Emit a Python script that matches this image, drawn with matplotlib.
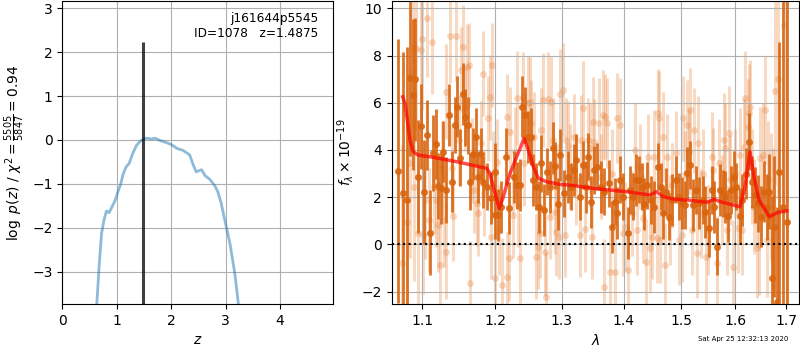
import matplotlib
matplotlib.use('Agg')
import matplotlib.pyplot as plt
from matplotlib.ticker import FixedLocator, FormatStrFormatter, NullLocator

# p(z) curve
z_grid = [0.63, 0.68, 0.72, 0.765, 0.81, 0.86, 0.91, 0.97, 1.03, 1.07,
          1.12, 1.17, 1.23, 1.29, 1.36, 1.43, 1.50, 1.55, 1.64, 1.70,
          1.79, 1.91, 2.01, 2.10, 2.22, 2.34, 2.40, 2.46, 2.51, 2.56,
          2.62, 2.71, 2.80, 2.86, 2.92, 3.00, 3.08, 3.17, 3.24]
logpz = [-3.80, -2.82, -2.14, -1.83, -1.62, -1.66, -1.53, -1.38, -1.15, -1.02,
         -0.77, -0.62, -0.53, -0.32, -0.13, -0.03, 0.02, 0.04, 0.02, 0.04,
         -0.01, -0.06, -0.11, -0.19, -0.24, -0.34, -0.55, -0.73, -0.70, -0.68,
         -0.81, -0.90, -1.04, -1.19, -1.45, -1.91, -2.36, -3.05, -3.80]
z_best = 1.4875
pz_peak = 2.24

# spectrum, bright points
wave_hi = [1.0688, 1.0755, 1.0800, 1.0845, 1.0876, 1.0903, 1.0947, 1.0979, 1.1023, 1.1059,
           1.1099, 1.1135, 1.1180, 1.1215, 1.1247, 1.1282, 1.1323, 1.1358, 1.1394, 1.1434,
           1.1470, 1.1506, 1.1546, 1.1582, 1.1613, 1.1653, 1.1693, 1.1725, 1.1760, 1.1796,
           1.1832, 1.1881, 1.1939, 1.1993,
           1.2002, 1.2038, 1.2088, 1.2154, 1.2204, 1.2270, 1.2320, 1.2371, 1.2391, 1.2441,
           1.2482, 1.2522, 1.2557, 1.2608, 1.2648, 1.2684, 1.2724, 1.2775, 1.2810, 1.2860,
           1.2896, 1.2936, 1.2976, 1.3037, 1.3088, 1.3138, 1.3189, 1.3229, 1.3279, 1.3330,
           1.3380, 1.3416, 1.3466, 1.3517,
           1.3564, 1.3621, 1.3678, 1.3752, 1.3797, 1.3849, 1.3889, 1.3934, 1.3991, 1.4066,
           1.4106, 1.4163, 1.4208, 1.4265, 1.4305, 1.4345, 1.4402, 1.4459, 1.4516, 1.4579,
           1.4630, 1.4676, 1.4733, 1.4779, 1.4836, 1.4904, 1.4950, 1.5007, 1.5064, 1.5104,
           1.5161, 1.5207, 1.5258,
           1.5328, 1.5392, 1.5437, 1.5502, 1.5566, 1.5604, 1.5649, 1.5713, 1.5758, 1.5810,
           1.5861, 1.5919, 1.5970, 1.6022, 1.6080, 1.6131, 1.6208, 1.6272, 1.6324, 1.6375,
           1.6439, 1.6504, 1.6555, 1.6613, 1.6664, 1.6709, 1.6760, 1.6812, 1.6863, 1.6934,
           1.7030]
flux_hi = [3.10, 2.16, 1.88, 7.03, 6.33, 7.00, 2.87, 5.00, 2.23, 4.63,
           0.49, 3.86, 4.25, 2.49, 2.37, 3.93, 2.30, 5.48, 2.66, 5.06,
           5.83, 3.67, 6.37, 5.38, 5.04, 2.66, 3.83, 4.56, 2.87, 3.83,
           2.66, 2.44, 1.95, 1.24,
           3.08, 1.24, 1.60, 3.71, 1.53, 2.87, 2.51, 2.51, 5.83, 5.48,
           4.56, 4.56, 2.73, 2.44, 1.60, 3.43, 1.45, 3.08, 2.44, 4.07,
           3.33, 1.71, 3.79, 2.16, 2.87, 2.44, 3.15, 3.57, 2.02, 3.36,
           2.44, 3.71, 1.81, 3.15,
           3.29, 2.44, 2.23, 2.58, 0.72, 1.81, 1.31, 2.73, 2.02, 0.47,
           2.30, 2.02, 2.73, 2.73, 2.44, 1.71, 2.51, 1.88, 1.60, 3.29,
           2.44, 1.31, 2.23, 1.17, 1.88, 2.73, 2.02, 1.74, 1.67, 3.04,
           3.36, 1.67, 2.30,
           1.74, 1.88, 1.38, 0.68, 2.30, 1.60, -0.10, 2.30, 2.16, 2.02,
           1.20, 2.30, 2.87, 2.44, 1.20, 1.88, 3.00, 4.35, 2.66, 2.09,
           1.74, 1.17, 2.23, 1.60, 2.23, -1.44, 0.75, -2.43, 3.08, 1.60,
           0.96]
err_hi = [5.6, 6.0, 6.5, 3.3, 3.2, 2.6, 2.4, 1.8, 2.2, 1.5,
          1.8, 1.6, 1.5, 1.4, 1.5, 1.3, 1.4, 1.3, 1.3, 1.2,
          1.3, 1.2, 1.3, 1.2, 1.2, 1.2, 1.1, 1.2, 1.1, 1.1,
          1.1, 1.0, 1.1, 1.0,
          1.2, 1.1, 1.1, 1.2, 1.1, 1.1, 1.0, 1.1, 1.3, 1.2,
          1.1, 1.2, 1.1, 1.0, 1.1, 1.2, 1.1, 1.0, 1.1, 1.1,
          1.0, 1.1, 1.1, 1.0, 1.1, 1.0, 1.1, 1.1, 1.0, 1.0,
          1.1, 1.0, 1.1, 1.0,
          1.0, 1.1, 1.0, 1.0, 1.1, 1.0, 1.1, 1.0, 1.0, 1.1,
          1.0, 1.0, 1.1, 1.0, 1.0, 1.1, 1.0, 1.0, 1.1, 1.0,
          1.0, 1.1, 1.0, 1.0, 1.1, 1.0, 1.0, 1.1, 1.0, 1.1,
          1.0, 1.1, 1.0,
          1.1, 1.0, 1.1, 1.2, 1.0, 1.1, 1.2, 1.1, 1.0, 1.1,
          1.1, 1.0, 1.1, 1.0, 1.2, 1.1, 1.1, 1.2, 1.1, 1.2,
          1.2, 1.3, 1.3, 1.4, 1.6, 3.5, 3.0, 4.0, 5.5, 12.0,
          12.0]

# spectrum, faint points
wave_lo = [1.0733, 1.0800, 1.0845, 1.0876, 1.0889, 1.0921, 1.0943, 1.0979, 1.1001, 1.1010,
           1.1037, 1.1068, 1.1090, 1.1126, 1.1157, 1.1180, 1.1202, 1.1233, 1.1269, 1.1291,
           1.1314, 1.1323, 1.1367, 1.1403, 1.1416, 1.1448, 1.1492, 1.1515, 1.1550, 1.1582,
           1.1604, 1.1635, 1.1653, 1.1671, 1.1707, 1.1738, 1.1760, 1.1805, 1.1827, 1.1850,
           1.1894, 1.1930, 1.1948, 1.1961, 1.1975,
           1.2002, 1.2027, 1.2053, 1.2103, 1.2169, 1.2179, 1.2204, 1.2219, 1.2255, 1.2290,
           1.2320, 1.2340, 1.2371, 1.2406, 1.2431, 1.2482, 1.2507, 1.2532, 1.2573, 1.2608,
           1.2633, 1.2658, 1.2684, 1.2709, 1.2734, 1.2759, 1.2785, 1.2810, 1.2835, 1.2860,
           1.2886, 1.2911, 1.2936, 1.2961, 1.2976, 1.3012, 1.3047, 1.3062, 1.3098, 1.3128,
           1.3189, 1.3214, 1.3279, 1.3300, 1.3340, 1.3365, 1.3406, 1.3441, 1.3476, 1.3491,
           1.3517,
           1.3592, 1.3621, 1.3661, 1.3678, 1.3695, 1.3718, 1.3763, 1.3809, 1.3849, 1.3889,
           1.3934, 1.3980, 1.4020, 1.4077, 1.4134, 1.4191, 1.4231, 1.4277, 1.4334, 1.4379,
           1.4419, 1.4448, 1.4476, 1.4516, 1.4562, 1.4590, 1.4607, 1.4619, 1.4665, 1.4705,
           1.4744, 1.4790, 1.4836, 1.4904, 1.4950, 1.5007, 1.5030, 1.5064, 1.5104, 1.5132,
           1.5161, 1.5189, 1.5235, 1.5275, 1.5304,
           1.5360, 1.5392, 1.5457, 1.5489, 1.5566, 1.5585, 1.5649, 1.5694, 1.5746, 1.5778,
           1.5810, 1.5842, 1.5874, 1.5906, 1.5958, 1.6003, 1.6054, 1.6099, 1.6131, 1.6163,
           1.6195, 1.6247, 1.6259, 1.6279, 1.6324, 1.6356, 1.6420, 1.6452, 1.6484, 1.6548,
           1.6581, 1.6613, 1.6645, 1.6696, 1.6741, 1.6786, 1.6837, 1.6953]
flux_lo = [-0.81, 0.96, 3.43, 8.30, 2.44, 8.30, 0.47, 8.23, 8.69, 0.40,
           1.88, 9.58, 1.03, 8.59, 2.44, 1.88, 0.82, -0.88, 3.22, 1.03,
           6.47, -0.31, 8.83, 3.22, 1.20, 8.83, 4.42, 7.39, 8.35, 5.76,
           7.53, 7.60, -1.65, 3.57, 2.30, 1.74, 1.31, 4.28, 7.22, 2.16,
           5.34, 6.23, 0.32, 7.60, 3.00,
           -1.44, 3.50, 0.61, -1.72, 5.41, -1.37, -0.59, 4.77, 1.24, 3.93,
           6.19, 1.67, -0.59, 6.26, 3.43, 5.97, 6.05, 5.16, 4.56, -0.52,
           -0.10, 0.47, 4.84, 6.12, -0.31, -2.22, 6.14, 1.17, 6.05, 4.42,
           1.38, 0.54, 2.44, 0.32, 6.37, 6.54, 0.40, 4.42, 4.18, 3.29,
           4.56, 2.73, 0.40, 4.42, 5.76, 0.64, 4.42, 4.07, 0.32, 5.20,
           4.35,
           5.13, 2.87, 5.48, -1.79, 5.41, 5.13, -1.16, 3.00, -1.16, 5.34,
           5.06, 0.47, 0.75, -1.09, 1.31, 4.00, 0.61, 3.29, 1.10, -0.73,
           3.71, -0.17, 0.32, 3.71, 0.25, 5.55, 5.34, 0.18, 4.56, -0.88,
           3.71, 1.03, 2.51, 3.86, 0.18, 0.40, 5.34, 3.00, 5.06, 3.93,
           5.69, 0.61, 4.84, -0.38, 4.28,
           1.31, 3.00, -0.52, 0.61, 3.71, 3.15, -0.81, 3.43, 1.88, 4.42,
           4.07, 0.61, 4.70, 2.73, -0.95, 3.00, 0.68, 3.79, 0.61, 4.14,
           6.19, 4.99, 5.55, 5.80, 2.87, 1.60, -0.17, -0.03, 3.64, 3.79,
           5.69, 0.18, 2.73, 2.02, 1.10, 6.51, 7.00, 9.29]
err_lo = [5.0, 5.0, 4.0, 4.0, 4.0, 3.5, 3.0, 3.0, 3.0, 2.5,
          2.5, 2.5, 2.2, 2.2, 2.0, 2.0, 2.0, 2.0, 2.0, 2.0,
          2.0, 2.0, 2.0, 1.9, 1.9, 1.9, 1.9, 1.8, 1.8, 1.8,
          1.8, 1.8, 1.8, 1.8, 1.8, 1.8, 1.8, 1.8, 1.8, 1.8,
          1.8, 1.8, 1.8, 1.8, 1.8,
          1.9, 1.8, 1.9, 2.0, 1.8, 1.9, 1.8, 1.9, 1.8, 1.9,
          2.0, 1.8, 1.9, 1.9, 1.8, 2.0, 1.9, 1.8, 1.9, 1.8,
          1.8, 1.9, 1.8, 2.0, 1.9, 1.9, 2.0, 1.8, 1.9, 1.8,
          1.8, 1.9, 1.8, 1.8, 1.9, 2.0, 1.8, 1.8, 1.9, 1.8,
          1.8, 1.9, 1.8, 1.9, 2.0, 1.8, 1.8, 1.9, 1.8, 1.9,
          1.8,
          1.9, 1.8, 1.9, 2.0, 1.8, 1.9, 1.8, 1.9, 1.8, 1.9,
          2.0, 1.8, 1.9, 1.9, 1.8, 2.0, 1.9, 1.8, 1.9, 1.8,
          1.8, 1.9, 1.8, 2.0, 1.9, 1.9, 2.0, 1.8, 1.9, 1.8,
          1.8, 1.9, 1.8, 1.8, 1.9, 2.0, 1.8, 1.8, 1.9, 1.8,
          1.8, 1.9, 1.8, 1.9, 2.0,
          1.9, 1.9, 2.0, 1.9, 1.9, 1.8, 2.0, 1.9, 1.9, 2.0,
          1.9, 1.9, 2.0, 1.9, 2.0, 1.9, 1.9, 2.0, 1.9, 2.0,
          2.0, 2.0, 2.1, 2.0, 2.0, 2.0, 2.1, 2.1, 2.2, 2.2,
          2.3, 2.4, 2.5, 2.7, 3.0, 4.0, 5.0, 8.0]

# best-fit model
model_wave = [1.0745, 1.0775, 1.0804, 1.0839, 1.0882, 1.0947, 1.1102, 1.1462, 1.1881, 1.1928,
              1.2000, 1.2062, 1.2120, 1.2217, 1.2316, 1.2424, 1.2488, 1.2563, 1.2638, 1.2766,
              1.2971, 1.3127, 1.3498, 1.4049, 1.4446, 1.4563, 1.4678, 1.4855, 1.5215, 1.5461,
              1.5596, 1.5709, 1.6089, 1.6186, 1.6283, 1.6361, 1.6459, 1.6664, 1.6844, 1.7014]
model_flux = [6.25, 5.97, 5.27, 4.42, 3.92, 3.78, 3.71, 3.50, 3.22, 3.00,
              2.16, 1.52, 2.02, 3.00, 3.71, 4.49, 4.00, 3.29, 2.80, 2.65,
              2.54, 2.51, 2.37, 2.23, 2.09, 2.23, 2.02, 1.92, 1.85, 1.78,
              1.91, 1.81, 1.59, 2.44, 3.92, 2.86, 1.88, 1.17, 1.36, 1.42]

lam_ticks = [1.1, 1.2, 1.3, 1.4, 1.5, 1.6, 1.7]

fig = plt.figure(figsize=(8, 3.5), dpi=100)
ax1 = fig.add_axes([0.0779, 0.1314, 0.3388, 0.8649])
ax2 = fig.add_axes([0.4896, 0.1314, 0.5091, 0.8649])

# left panel
ax1.plot(z_grid, logpz, color='#1f77b4', alpha=0.5, lw=2)
ax1.vlines(z_best, -4, pz_peak, color='k', alpha=0.75, lw=2.2)
ax1.set_xlim(0, 4.98)
ax1.set_ylim(-3.74, 3.16)
ax1.set_xticks([0, 1, 2, 3, 4])
ax1.grid(True)
ax1.set_xlabel('$z$')
ax1.set_ylabel(r'$\log\ p(z)$ / $\chi^2=\frac{5505}{5847}=0.94$')
ax1.text(0.945, 0.965, 'j161644p5545\nID=1078   z=1.4875', transform=ax1.transAxes,
         ha='right', va='top', fontsize=8.7)

# right panel
ax2.errorbar(wave_lo, flux_lo, yerr=err_lo, fmt='o', color='#e8823a', alpha=0.3,
             ms=5, mec='none', elinewidth=2.2, capsize=0, zorder=1)
ax2.errorbar(wave_hi, flux_hi, yerr=err_hi, fmt='o', color='#d9650f', alpha=0.9,
             ms=5, mec='none', elinewidth=2.0, capsize=0, zorder=2)
ax2.plot(model_wave, model_flux, color='r', alpha=0.7, lw=2.5, zorder=4)
ax2.axhline(0, color='k', ls=':', lw=1.5, zorder=5)
ax2.set_xscale('log')
ax2.set_xlim(1.0604, 1.7266)
ax2.set_ylim(-2.53, 10.3)
ax2.xaxis.set_major_locator(FixedLocator(lam_ticks))
ax2.xaxis.set_major_formatter(FormatStrFormatter('%.1f'))
ax2.xaxis.set_minor_locator(NullLocator())
ax2.grid(True)
ax2.set_xlabel(r'$\lambda$')
ax2.set_ylabel(r'$f_\lambda\times10^{-19}$', fontsize=10)

fig.text(0.985, 0.031, 'Sat Apr 25 12:32:13 2020', ha='right', va='center', fontsize=5)

fig.savefig('out.png', dpi=100)
